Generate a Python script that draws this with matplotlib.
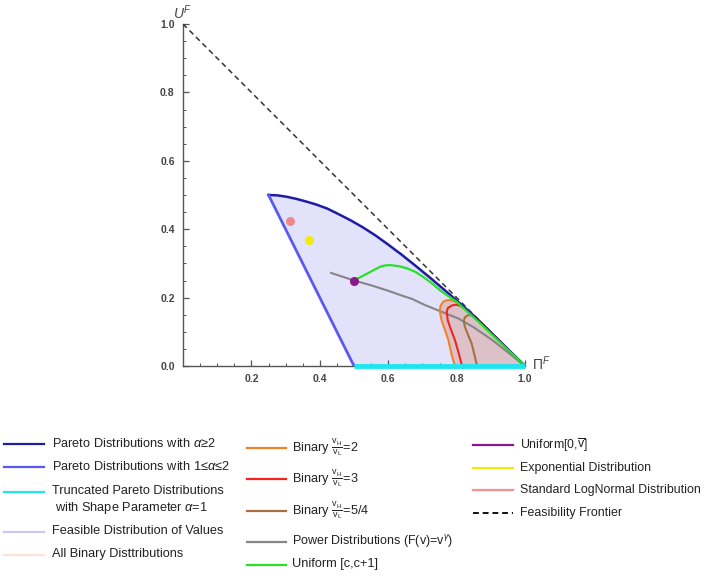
import matplotlib
matplotlib.use("Agg")
import matplotlib.pyplot as plt
from matplotlib.lines import Line2D

plt.rcParams['font.family'] = ['Liberation Sans', 'DejaVu Sans']
plt.rcParams['mathtext.fontset'] = 'custom'
plt.rcParams['mathtext.rm'] = 'Liberation Sans'
plt.rcParams['mathtext.it'] = 'Liberation Sans:italic'
plt.rcParams['mathtext.bf'] = 'Liberation Sans:bold'

# --- данные ---
# Парето, alpha >= 2 (верхняя граница области)
pareto_hi_x = [0.25, 0.275, 0.3025, 0.33, 0.36, 0.39, 0.4225, 0.455, 0.49, 0.525, 0.5625,
               0.60, 0.64, 0.68, 0.7225, 0.765, 0.81, 0.855, 0.9025, 0.95, 1.0]
pareto_hi_y = [0.50, 0.499, 0.495, 0.489, 0.481, 0.472, 0.460, 0.444, 0.426, 0.406, 0.382,
               0.355, 0.325, 0.293, 0.258, 0.222, 0.183, 0.142, 0.096, 0.049, 0.0]
# Парето, 1 <= alpha <= 2
pareto_lo_x = [0.25, 0.5]
pareto_lo_y = [0.50, 0.0]
# усечённое Парето, alpha = 1
trunc_x = [0.5, 1.0]
trunc_y = [0.0, 0.0]
# граница допустимости
frontier_x = [0.0, 1.0]
frontier_y = [1.0, 0.0]

# бинарные распределения
bin2_x = [0.795, 0.785, 0.776, 0.766, 0.756, 0.751, 0.753, 0.761, 0.771, 0.781, 0.795, 0.805,
          0.82, 0.834, 0.87, 0.90, 0.95, 1.0]
bin2_y = [0.0, 0.035, 0.076, 0.105, 0.134, 0.160, 0.176, 0.188, 0.192, 0.193, 0.189, 0.183,
          0.174, 0.163, 0.128, 0.098, 0.049, 0.0]
bin3_x = [0.816, 0.806, 0.795, 0.784, 0.774, 0.771, 0.775, 0.786, 0.797, 0.805, 0.818,
          0.83, 0.87, 0.90, 0.95, 1.0]
bin3_y = [0.0, 0.038, 0.076, 0.105, 0.134, 0.159, 0.170, 0.177, 0.179, 0.178, 0.172,
          0.164, 0.128, 0.098, 0.049, 0.0]
bin54_x = [0.860, 0.852, 0.844, 0.833, 0.824, 0.821, 0.824, 0.834, 0.845, 0.854, 0.87,
           0.90, 0.95, 1.0]
bin54_y = [0.0, 0.033, 0.066, 0.092, 0.115, 0.132, 0.142, 0.149, 0.148, 0.144, 0.128,
           0.098, 0.049, 0.0]

# степенные распределения F(v)=v^gamma
power_x = [0.433, 0.47, 0.50, 0.55, 0.60, 0.634, 0.67, 0.708, 0.75, 0.805, 0.85, 0.9026, 0.95, 1.0]
power_y = [0.272, 0.260, 0.250, 0.236, 0.220, 0.208, 0.196, 0.178, 0.161, 0.139, 0.113, 0.077,
           0.040, 0.0]

# равномерное [c, c+1]
unif_x = [0.50, 0.576, 0.59, 0.605, 0.63, 0.654, 0.68, 0.703, 0.73, 0.751, 0.776, 0.80,
          0.83, 0.87, 0.90, 0.95, 1.0]
unif_y = [0.250, 0.290, 0.294, 0.295, 0.292, 0.286, 0.275, 0.260, 0.240, 0.222, 0.204, 0.188,
          0.160, 0.124, 0.095, 0.047, 0.0]

# отдельные точки
unif0_pt = (0.5, 0.25)
expo_pt = (0.368, 0.368)
lognorm_pt = (0.313, 0.424)

xticks = [0.2, 0.4, 0.6, 0.8, 1.0]
yticks = [0.0, 0.2, 0.4, 0.6, 0.8, 1.0]

c_pareto_hi = '#1c1ca8'
c_pareto_lo = '#5a5af0'
c_trunc = '#1ee6f0'
c_feasible = '#e2e2fa'
c_binary_fill = '#dcc2c8'
c_bin2 = '#f0822a'
c_bin3 = '#f42222'
c_bin54 = '#a8703e'
c_power = '#858585'
c_unif = '#28e028'
c_unif0 = '#8a1a8a'
c_expo = '#f0ea10'
c_lognorm = '#f08890'

fig = plt.figure(figsize=(7.07, 5.76), dpi=100)
ax = fig.add_axes([183 / 707, 1 - 366 / 576, 342 / 707, 342 / 576])

# области
ax.fill(pareto_hi_x + pareto_lo_x[::-1][:1], pareto_hi_y + pareto_lo_y[::-1][:1],
        color=c_feasible, lw=0, zorder=1)
ax.fill(bin2_x, bin2_y, color=c_binary_fill, lw=0, zorder=2)

ax.plot(frontier_x, frontier_y, color='#333333', ls=(0, (3.5, 2.5)), lw=1.1, zorder=3)
ax.plot(power_x, power_y, color=c_power, lw=1.5, zorder=4)
ax.plot(bin54_x, bin54_y, color=c_bin54, lw=1.5, zorder=4)
ax.plot(bin3_x, bin3_y, color=c_bin3, lw=1.5, zorder=4)
ax.plot(bin2_x, bin2_y, color=c_bin2, lw=1.5, zorder=4)
ax.plot(pareto_hi_x, pareto_hi_y, color=c_pareto_hi, lw=1.8, zorder=5)
ax.plot(unif_x, unif_y, color=c_unif, lw=1.6, zorder=6)
ax.plot(pareto_lo_x, pareto_lo_y, color=c_pareto_lo, lw=2.0, zorder=5)
ax.plot(trunc_x, trunc_y, color=c_trunc, lw=3.5, zorder=7, clip_on=False, solid_capstyle='butt')

ax.plot(*unif0_pt, 'o', color=c_unif0, ms=5.5, zorder=8)
ax.plot(*expo_pt, 'o', color=c_expo, ms=5.5, zorder=8)
ax.plot(*lognorm_pt, 'o', color=c_lognorm, ms=5.5, zorder=8)

# оси в стиле Mathematica
ax.set_xlim(0, 1.0)
ax.set_ylim(0, 1.0)
for s in ['top', 'right']:
    ax.spines[s].set_visible(False)
for s in ['left', 'bottom']:
    ax.spines[s].set_color('#555555')
    ax.spines[s].set_linewidth(1.0)
ax.set_xticks(xticks)
ax.set_yticks(yticks)
ax.set_xticks([i * 0.05 for i in range(1, 20)], minor=True)
ax.set_yticks([i * 0.05 for i in range(1, 20)], minor=True)
ax.tick_params(which='major', direction='in', length=4, width=0.9, color='#555555',
               labelsize=7.5, labelcolor='#444444', pad=6)
ax.tick_params(which='minor', direction='in', length=2.5, width=0.7, color='#555555')
ax.set_xticklabels([f'{t:.1f}' for t in xticks], fontweight='bold')
ax.set_yticklabels([f'{t:.1f}' for t in yticks], fontweight='bold')
ax.patch.set_alpha(0)

ax.text(1.047, 0.006, r'$\Pi^F$', fontsize=10, ha='center', va='center', color='#444444')
ax.text(0.0, 1.033, r'$U^F$', fontsize=10, ha='center', va='center', color='#444444')

# легенда вручную (три колонки)
W, H = 707, 576
tc = '#222222'


def item(x0, x1, y, color, label, ls='-', lw=1.6, tx=None, fs=9.2):
    fig.add_artist(Line2D([x0 / W, x1 / W], [1 - y / H, 1 - y / H], color=color, ls=ls, lw=lw))
    fig.text((tx if tx else x1 + 7) / W, 1 - y / H, label, fontsize=fs, color=tc,
             ha='left', va='center')


item(4, 44, 443.5, c_pareto_hi, r'Pareto Distributions with $\alpha$≥2', tx=51.5)
item(4, 44, 466.5, c_pareto_lo, r'Pareto Distributions with 1≤$\alpha$≤2', tx=51.5)
item(4, 44, 491.5, c_trunc, 'Truncated Pareto Distributions', tx=51.5)
fig.text(55 / W, 1 - 508.5 / H, r'with Shape Parameter $\alpha$=1', fontsize=9.2, color=tc,
         ha='left', va='center')
item(4, 44, 531.5, '#c8c8f0', 'Feasible Distribution of Values', tx=51.5)
item(4, 44, 554.5, '#fbe3d6', 'All Binary Disttributions', tx=51.5)

item(247, 286, 447.5, c_bin2, r'Binary $\frac{\mathrm{v_H}}{\mathrm{v_L}}$=2', tx=292.5)
item(247, 286, 478.5, c_bin3, r'Binary $\frac{\mathrm{v_H}}{\mathrm{v_L}}$=3', tx=292.5)
item(247, 286, 511, c_bin54, r'Binary $\frac{\mathrm{v_H}}{\mathrm{v_L}}$=5/4', tx=292.5)
item(247, 286, 541.5, c_power, r'Power Distributions (F(v)=v$^{\gamma}$)', tx=292.5, fs=9.0)
item(247, 286, 564.5, c_unif, 'Uniform [c,c+1]', tx=292.5)

item(473, 513, 445, c_unif0, r'Uniform[0,$\overline{\mathrm{v}}$]', tx=520, fs=8.9)
item(473, 513, 467.5, c_expo, 'Exponential Distribution', tx=520, fs=8.9)
item(473, 513, 490, '#f49090', 'Standard LogNormal Distribution', tx=520, fs=8.9)
item(473, 513, 513, '#111111', 'Feasibility Frontier', ls=(0, (3, 2)), lw=1.4, tx=520, fs=8.9)

fig.savefig('out.png', dpi=100)
